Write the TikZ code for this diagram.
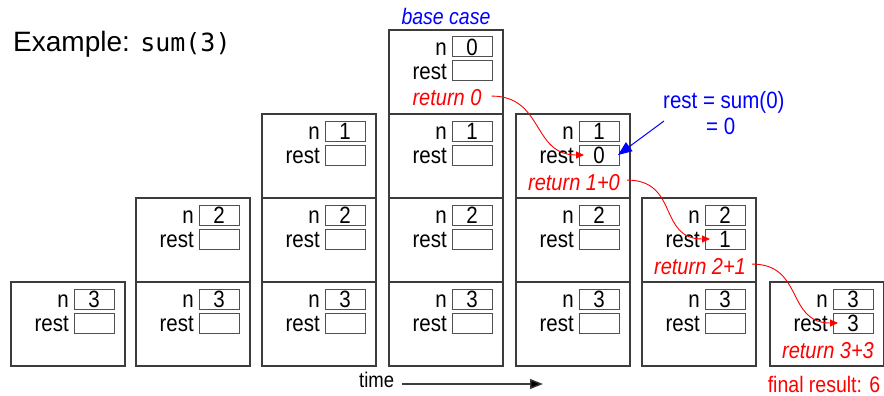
\documentclass[tikz,border=0pt]{standalone}
\usepackage{graphicx}
\usepackage{fontspec}
\setmainfont{Liberation Sans}
\setmonofont{DejaVu Sans Mono}
\usetikzlibrary{arrows.meta}
\definecolor{framegray}{HTML}{3C3C3C}
\definecolor{boxgray}{HTML}{505050}
\newcommand\lblfont{\fontsize{20.5}{24}\selectfont}
\newcommand\vs[1]{\scalebox{1}[1.15]{#1}}
\newcommand\frm[5]{% #1 name, #2 left x, #3 top y, #4 n, #5 rest
  \node[frame] (#1) at (#2+57,#3+42) {};
  \node[slot] (#1n) at (#2+83,#3+17) {\vs{#4}};
  \node[slot] (#1r) at (#2+83,#3+41) {\vs{#5}};
  \node[lbl] (#1nl) at (#2+58,#3+17) {\vs{n}};
  \node[lbl] (#1rl) at (#2+58,#3+41) {\vs{rest}};
}
\newcommand\ret[4]{% #1 name, #2 left x, #3 top y, #4 text
  \node[rettext] (#1) at (#2+58,#3+76) {\vs{#4}};
}
\begin{document}
\begin{tikzpicture}[x=1pt,y=-1pt,
  frame/.style={draw=framegray,line width=1.3pt,minimum width=114pt,minimum height=84pt,inner sep=0pt,outer sep=0pt},
  slot/.style={draw=boxgray,line width=1pt,minimum width=40pt,minimum height=20pt,inner sep=0pt,outer sep=0pt,font=\lblfont,text height=17pt,text depth=0pt},
  lbl/.style={anchor=east,inner sep=0pt,font=\lblfont,text height=17pt,text depth=0pt},
  rettext/.style={anchor=base,inner sep=0pt,text=red,font=\fontsize{20}{24}\selectfont\itshape},
  redarrow/.style={draw=red,line width=0.9pt,-{Triangle[length=8pt,width=7pt]}},
  bluearrow/.style={draw=blue,line width=1pt,-{Triangle[length=14pt,width=11pt]}},
  timearrow/.style={draw=framegray,line width=1.3pt,-{Triangle[length=13pt,width=10pt,fill=black]}}
]
\useasboundingbox (0,0) rectangle (884,396);

\node[anchor=base west,inner sep=0pt] (title) at (13,52) {\fontsize{28}{30}\selectfont Example: \fontsize{25}{30}\selectfont\ttfamily sum(3)};

% column 0
\frm{a0}{11}{282}{3}{}
% column 1
\frm{b0}{136}{282}{3}{}
\frm{b1}{136}{198}{2}{}
% column 2
\frm{c0}{262}{282}{3}{}
\frm{c1}{262}{198}{2}{}
\frm{c2}{262}{114}{1}{}
% column 3
\frm{d0}{389}{282}{3}{}
\frm{d1}{389}{198}{2}{}
\frm{d2}{389}{114}{1}{}
\frm{d3}{389}{30}{0}{}
\ret{d3t}{389}{30}{return 0}
% column 4
\frm{e0}{516}{282}{3}{}
\frm{e1}{516}{198}{2}{}
\frm{e2}{516}{114}{1}{0}
\ret{e2t}{516}{114}{return 1+0}
% column 5
\frm{f0}{642}{282}{3}{}
\frm{f1}{642}{198}{2}{1}
\ret{f1t}{642}{198}{return 2+1}
% column 6
\frm{g0}{770}{282}{3}{3}
\ret{g0t}{770}{282}{return 3+3}

% base case label
\node[anchor=base,inner sep=0pt,text=blue,font=\fontsize{19.5}{24}\selectfont\itshape] (base) at (446,25) {\vs{base case}};

% returns
\draw[redarrow] ([xshift=10pt,yshift=2pt]d3t.east) .. controls +(52,0) and +(-52,0) .. ([xshift=5pt]e2r.west);
\draw[redarrow] ([xshift=7pt,yshift=2pt]e2t.east) .. controls +(52,0) and +(-52,0) .. ([xshift=5pt]f1r.west);
\draw[redarrow] ([xshift=6pt,yshift=2pt]f1t.east) .. controls +(52,0) and +(-52,0) .. ([xshift=5pt]g0r.west);

% annotation
\node[anchor=base west,inner sep=0pt,text=blue,font=\fontsize{20.5}{24}\selectfont] (ann1) at (663,109) {\vs{rest = sum(0)}};
\node[anchor=base west,inner sep=0pt,text=blue,font=\fontsize{20.5}{24}\selectfont] (ann2) at (706,135) {\vs{= 0}};
\coordinate (bstart) at (664,121);
\draw[bluearrow] (bstart) -- ([xshift=-1pt]e2r.east);

% time
\node[anchor=base west,inner sep=0pt,font=\fontsize{18.5}{22}\selectfont] (time) at (359,387) {\vs{time}};
\coordinate (tend) at (543,384);
\draw[timearrow] (time.base east) ++(8,-3) -- (tend);

% final result
\node[anchor=base,inner sep=0pt,text=red,font=\fontsize{19.5}{24}\selectfont] (final) at (824,392) {\vs{final result: 6}};
\end{tikzpicture}
\end{document}
